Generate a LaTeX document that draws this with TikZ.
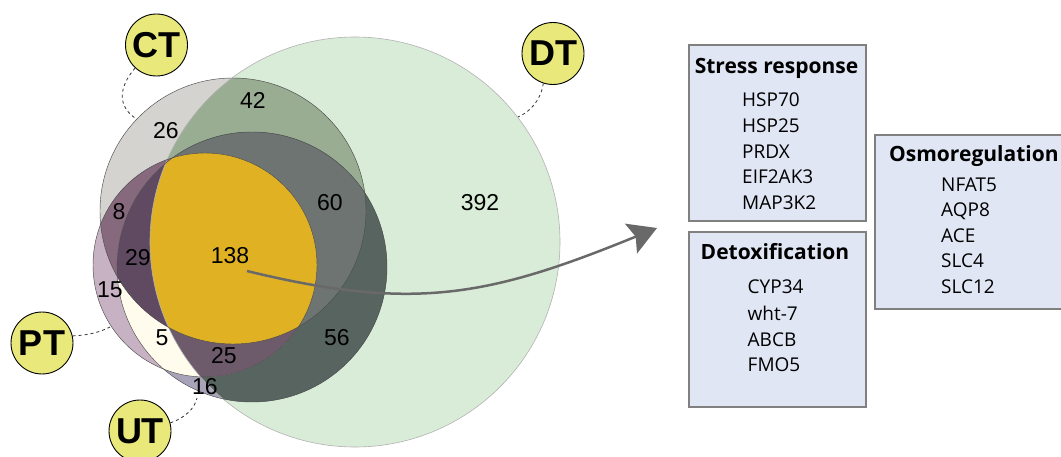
\documentclass[tikz,border=0pt]{standalone}
\usepackage{fontspec}
\setmainfont{Liberation Sans}
\newfontfamily\boxfont{Open Sans}
\usetikzlibrary{arrows.meta}
\definecolor{cDTonly}{HTML}{D9ECD8}
\definecolor{cCTonly}{HTML}{D4D3D0}
\definecolor{cUTonly}{HTML}{A9A3B9}
\definecolor{cPTonly}{HTML}{C7B2C4}
\definecolor{cFortyTwo}{HTML}{99AD93}
\definecolor{cFiftySix}{HTML}{58645F}
\definecolor{cSixty}{HTML}{6D7472}
\definecolor{cEight}{HTML}{87697E}
\definecolor{cFive}{HTML}{FFFCEE}
\definecolor{cTwentyNine}{HTML}{5F4A62}
\definecolor{cTwentyFive}{HTML}{6D5B6B}
\definecolor{cGold}{HTML}{E0B223}
\definecolor{cLabel}{HTML}{E8E87B}
\definecolor{cBoxFill}{HTML}{E1E6F5}
\definecolor{cBoxLine}{HTML}{808080}
\definecolor{cArrow}{HTML}{696969}
\tikzset{
  vline/.style={draw=black!70, line width=0.45pt},
  dtline/.style={draw=black!30, line width=0.6pt},
  num/.style={font=\fontsize{23}{27}\selectfont, inner sep=0pt},
  setlabel/.style={circle, draw=black, line width=0.9pt, fill=cLabel, minimum size=62pt, inner sep=0pt, font=\fontsize{36}{40}\selectfont\bfseries},
  leader/.style={draw=black!80, line width=0.8pt, dash pattern=on 3pt off 3pt},
  gbox/.style={draw=cBoxLine, line width=2pt, fill=cBoxFill, inner sep=0pt},
  btitle/.style={font=\boxfont\bfseries\fontsize{21}{24}\selectfont, inner sep=0pt, anchor=base},
  bitem/.style={font=\boxfont\fontsize{19}{22}\selectfont, inner sep=0pt, anchor=base west},
  bigarrow/.style={draw=cArrow, line width=2.5pt, -{Stealth[length=28pt, width=32pt, inset=5pt]}}
}
\begin{document}
\begin{tikzpicture}[x=1pt, y=-1pt]
\useasboundingbox (0,0) rectangle (1061,457);
\coordinate (oDT) at (355,242);
\coordinate (oCT) at (233,211);
\coordinate (oUT) at (252,267);
\coordinate (oPT) at (205,265);
% base fills
\fill[cDTonly] (oDT) circle[radius=205pt];
\fill[cCTonly] (oCT) circle[radius=133pt];
\fill[cUTonly] (oUT) circle[radius=135pt];
\fill[cPTonly] (oPT) circle[radius=112pt];
% intersections
\begin{scope}\clip (oCT) circle[radius=133pt]; \fill[cFortyTwo] (oDT) circle[radius=205pt];\end{scope}
\begin{scope}\clip (oUT) circle[radius=135pt]; \fill[cFiftySix] (oDT) circle[radius=205pt];\end{scope}
\begin{scope}\clip (oUT) circle[radius=135pt]; \clip (oCT) circle[radius=133pt]; \fill[cSixty] (oDT) circle[radius=205pt];\end{scope}
\begin{scope}\clip (oPT) circle[radius=112pt]; \fill[cEight] (oCT) circle[radius=133pt];\end{scope}
\begin{scope}\clip (oPT) circle[radius=112pt]; \fill[cFive] (oUT) circle[radius=135pt];\end{scope}
\begin{scope}\clip (oPT) circle[radius=112pt]; \clip (oUT) circle[radius=135pt]; \fill[cTwentyNine] (oCT) circle[radius=133pt];\end{scope}
\begin{scope}\clip (oPT) circle[radius=112pt]; \clip (oUT) circle[radius=135pt]; \fill[cTwentyFive] (oDT) circle[radius=205pt];\end{scope}
\begin{scope}\clip (oPT) circle[radius=112pt]; \clip (oUT) circle[radius=135pt]; \clip (oCT) circle[radius=133pt]; \fill[cGold] (oDT) circle[radius=205pt];\end{scope}
% outlines
\draw[dtline] (oDT) circle[radius=205pt];
\draw[vline] (oCT) circle[radius=133pt];
\draw[vline] (oUT) circle[radius=135pt];
\draw[vline] (oPT) circle[radius=112pt];
% numbers
\node[num] (n392) at (480,203) {392};
\node[num] (n42) at (253,100) {42};
\node[num] (n26) at (166,131) {26};
\node[num] (n60) at (330,203) {60};
\node[num] (n8) at (119,212) {8};
\node[num] (n29) at (138,258) {29};
\node[num] (n15) at (110,290) {15};
\node[num] (n138) at (230,256) {138};
\node[num] (n5) at (162,338) {5};
\node[num] (n25) at (224,356) {25};
\node[num] (n16) at (205,387) {16};
\node[num] (n56) at (337,338) {56};
% set labels
\node[setlabel] (lCT) at (156.5,45) {CT};
\node[setlabel] (lDT) at (553,53.5) {DT};
\node[setlabel] (lPT) at (42,343) {PT};
\node[setlabel] (lUT) at (140,431) {UT};
\coordinate (eCT) at (135,118);
\coordinate (eDT) at (518,117);
\coordinate (ePT) at (110,327);
\coordinate (eUT) at (197,398);
\draw[leader] (lCT.227) .. controls (118,88) and (118,106) .. (eCT);
\draw[leader] (lDT.252) .. controls (541,100) and (530,112) .. (eDT);
\draw[leader] (lPT.13) .. controls (90,335) and (100,332) .. (ePT);
\draw[leader] (lUT.15) .. controls (185,418) and (195,408) .. (eUT);
% arrow
\coordinate (aS) at (247,271);
\coordinate (aE) at (657,228);
\draw[bigarrow] (aS) .. controls (415,312) and (490,296) .. (aE);
% boxes
\node[gbox, minimum width=177pt, minimum height=176pt] (bStress) at (777.5,133) {};
\node[gbox, minimum width=177pt, minimum height=175pt] (bDetox) at (777.5,319.5) {};
\node[gbox, minimum width=189pt, minimum height=174pt] (bOsmo) at (969.5,222) {};
\node[btitle] (tStress) at (776.5,74) {Stress response};
\node[bitem] (s1) at (742,107) {HSP70};
\node[bitem] (s2) at (742,133) {HSP25};
\node[bitem] (s3) at (742,159) {PRDX};
\node[bitem] (s4) at (742,184) {EIF2AK3};
\node[bitem] (s5) at (742,210) {MAP3K2};
\node[btitle] (tDetox) at (775,260) {Detoxification};
\node[bitem] (d1) at (747.5,294) {CYP34};
\node[bitem] (d2) at (747.5,320) {wht-7};
\node[bitem] (d3) at (747.5,346) {ABCB};
\node[bitem] (d4) at (747.5,371) {FMO5};
\node[btitle, anchor=base west] (tOsmo) at (889,161.5) {Osmoregulation};
\node[bitem] (o1) at (941,192) {NFAT5};
\node[bitem] (o2) at (941,217) {AQP8};
\node[bitem] (o3) at (941,243) {ACE};
\node[bitem] (o4) at (941,268) {SLC4};
\node[bitem] (o5) at (941,294) {SLC12};
\end{tikzpicture}
\end{document}
